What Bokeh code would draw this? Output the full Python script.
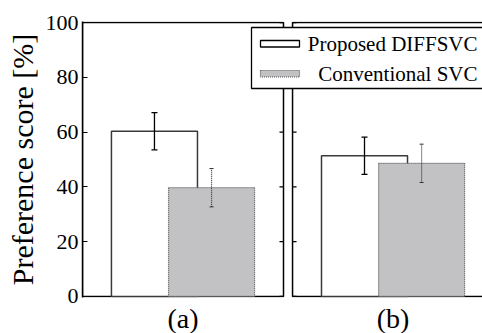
from bokeh.plotting import figure
from bokeh.models import Range1d, FixedTicker, Whisker, TeeHead, ColumnDataSource
from bokeh.core.properties import value
from bokeh.embed import file_html
from bokeh.resources import INLINE

# ---- data ----
panels = ["(a)", "(b)"]
series_names = ["Proposed DIFFSVC", "Conventional SVC"]
proposed = [60.3, 51.4]
proposed_err = [6.8, 6.8]
conventional = [39.7, 48.6]
conventional_err = [7.0, 7.0]
y_ticks = [0, 20, 40, 60, 80, 100]

# ---- layout (panel geometry in data units) ----
panel_left = [0.0, 1.045]
panel_w = 1.0
bar_off = [0.358, 0.642]
bar_w = 0.428
FONT = "Liberation Serif"

BL, BR, BT, BB = 82, 0, 21, 36
fw, fh = 400, 276
x0, x1 = 0.0, fw / 201.0
y0, y1 = -0.4, 100.4

def px2x(px):  # canvas px -> data x
    return x0 + (px - BL) / fw * (x1 - x0)

def py2y(py):  # canvas px -> data y
    return y1 - (py - BT) / fh * (y1 - y0)

p = figure(frame_width=fw, frame_height=fh, output_backend="svg", toolbar_location=None,
           x_range=Range1d(x0, x1), y_range=Range1d(y0, y1),
           min_border_left=BL, min_border_right=BR, min_border_top=BT, min_border_bottom=BB)
p.outline_line_color = None
p.xgrid.visible = False
p.ygrid.visible = False
p.background_fill_color = "white"

# panel frames
p.quad(left=panel_left, right=[l + panel_w for l in panel_left], bottom=0, top=100,
       fill_color=None, line_color="black", line_width=1.5)

centers = [l + panel_w / 2 for l in panel_left]
xa = [l + bar_off[0] for l in panel_left]
xb = [l + bar_off[1] for l in panel_left]

p.vbar(x=xa, width=bar_w, top=proposed, bottom=0, fill_color="white",
       line_color="#3a3a3a", line_width=1.5)
p.vbar(x=xb, width=bar_w, top=conventional, bottom=0, fill_color="#c2c2c4",
       line_color="#555555", line_width=1.2, line_dash="1 1")

sa = ColumnDataSource(dict(x=xa, up=[v + e for v, e in zip(proposed, proposed_err)],
                           lo=[v - e for v, e in zip(proposed, proposed_err)]))
sb = ColumnDataSource(dict(x=xb, up=[v + e for v, e in zip(conventional, conventional_err)],
                           lo=[v - e for v, e in zip(conventional, conventional_err)]))
p.add_layout(Whisker(base="x", upper="up", lower="lo", source=sa, line_color="black", line_width=1.3,
                     level="overlay",
                     upper_head=TeeHead(size=6, line_color="black", line_width=1.3),
                     lower_head=TeeHead(size=6, line_color="black", line_width=1.3)))
p.add_layout(Whisker(base="x", upper="up", lower="lo", source=sb, line_color="#333333", line_width=1.2,
                     line_dash="1 1", level="overlay",
                     upper_head=TeeHead(size=4, line_color="#333333", line_width=1),
                     lower_head=TeeHead(size=4, line_color="#333333", line_width=1)))

# inner ticks on the inner panel sides
tl = 4 / 201.0
p.segment(x0=[panel_left[0] + panel_w - tl] * len(y_ticks), x1=[panel_left[0] + panel_w] * len(y_ticks),
          y0=y_ticks, y1=y_ticks, line_color="black", line_width=1.2)
p.segment(x0=[panel_left[1]] * len(y_ticks), x1=[panel_left[1] + tl] * len(y_ticks),
          y0=y_ticks, y1=y_ticks, line_color="black", line_width=1.2)

# legend (custom, right-aligned text)
p.quad(left=[px2x(251)], right=[px2x(500)], top=[py2y(27)], bottom=[py2y(88)],
       fill_color="white", line_color="black", line_width=1.3)
p.quad(left=[px2x(260)], right=[px2x(299)], top=[py2y(40)], bottom=[py2y(46.5)],
       fill_color="white", line_color="black", line_width=1.3)
p.quad(left=[px2x(260)], right=[px2x(299)], top=[py2y(70)], bottom=[py2y(76.5)],
       fill_color="#c2c2c4", line_color="#555555", line_width=1.2, line_dash="1 1")
p.text(x=[px2x(477)] * 2, y=[py2y(43), py2y(73)], text=series_names,
       text_align="right", text_baseline="middle", text_font=value(FONT),
       text_font_size="21px", text_color="black")

# axes
p.yaxis.ticker = FixedTicker(ticks=y_ticks)
p.yaxis.axis_label = "Preference score [%]"
p.yaxis.axis_label_text_font = FONT
p.yaxis.axis_label_text_font_style = "normal"
p.yaxis.axis_label_text_font_size = "30px"
p.yaxis.axis_label_text_color = "black"
p.yaxis.axis_label_standoff = 4
p.yaxis.major_label_text_font = FONT
p.yaxis.major_label_text_font_size = "22px"
p.yaxis.major_label_text_color = "black"
p.yaxis.major_label_standoff = 4
p.yaxis.major_tick_in = 5
p.yaxis.major_tick_out = 0
p.yaxis.minor_tick_line_color = None
p.yaxis.axis_line_width = 1.5
p.yaxis.major_tick_line_width = 1.2

p.xaxis.ticker = FixedTicker(ticks=centers)
p.xaxis.major_label_overrides = {c: lab for c, lab in zip(centers, panels)}
p.xaxis.major_label_text_font = FONT
p.xaxis.major_label_text_font_size = "28px"
p.xaxis.major_label_text_color = "black"
p.xaxis.major_label_standoff = 5
p.xaxis.major_tick_in = 0
p.xaxis.major_tick_out = 0
p.xaxis.major_tick_line_color = None
p.xaxis.minor_tick_line_color = None
p.xaxis.axis_line_color = None

open("out.html", "w").write(file_html(p, INLINE))
